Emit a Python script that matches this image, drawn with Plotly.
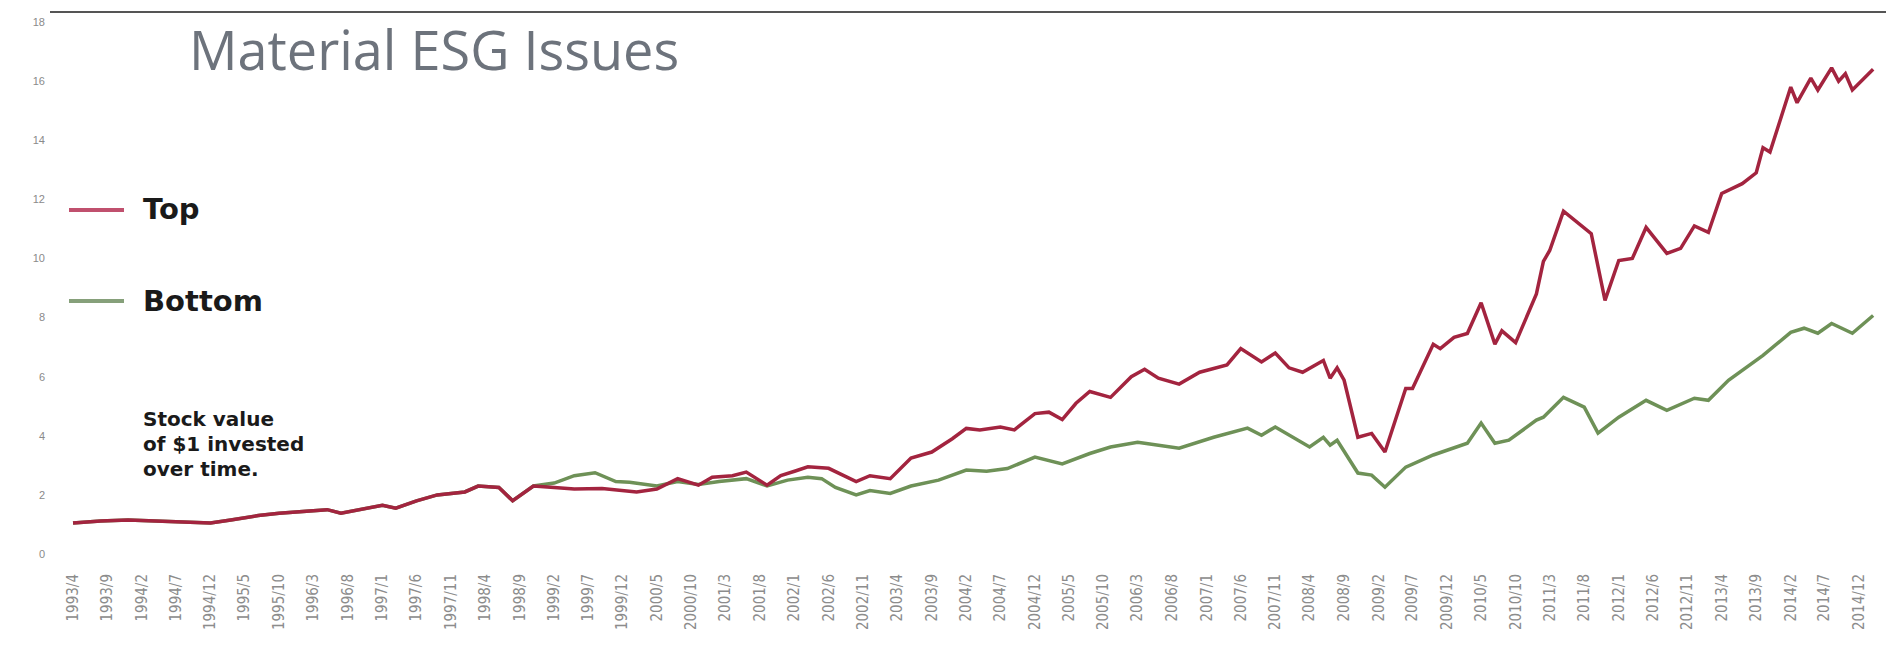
import plotly.graph_objects as go

# ---------------- data ----------------
TICK_LABELS = [
    "1993/4", "1993/9", "1994/2", "1994/7", "1994/12", "1995/5", "1995/10", "1996/3", "1996/8",
    "1997/1", "1997/6", "1997/11", "1998/4", "1998/9", "1999/2", "1999/7", "1999/12", "2000/5",
    "2000/10", "2001/3", "2001/8", "2002/1", "2002/6", "2002/11", "2003/4", "2003/9", "2004/2",
    "2004/7", "2004/12", "2005/5", "2005/10", "2006/3", "2006/8", "2007/1", "2007/6", "2007/11",
    "2008/4", "2008/9", "2009/2", "2009/7", "2009/12", "2010/5", "2010/10", "2011/3", "2011/8",
    "2012/1", "2012/6", "2012/11", "2013/4", "2013/9", "2014/2", "2014/7", "2014/12",
]

Y_TICKS = [0, 2, 4, 6, 8, 10, 12, 14, 16, 18]

TOP_DATES = [
    "1993-04", "1993-08", "1993-12", "1994-03", "1994-06", "1994-09", "1994-12", "1995-03",
    "1995-07", "1995-10", "1996-02", "1996-05", "1996-07", "1996-10", "1997-01", "1997-03",
    "1997-06", "1997-09", "1997-11", "1998-01", "1998-03", "1998-06", "1998-08", "1998-11",
    "1999-02", "1999-05", "1999-09", "2000-02", "2000-05", "2000-08", "2000-11", "2001-01",
    "2001-04", "2001-06", "2001-09", "2001-11", "2002-01", "2002-03", "2002-06", "2002-09",
    "2002-10", "2002-12", "2003-03", "2003-06", "2003-09", "2003-12", "2004-02", "2004-04",
    "2004-07", "2004-09", "2004-12", "2005-02", "2005-04", "2005-06", "2005-08", "2005-11",
    "2006-02", "2006-04", "2006-06", "2006-09", "2006-12", "2007-04", "2007-06", "2007-09",
    "2007-11", "2008-01", "2008-03", "2008-06", "2008-07", "2008-08", "2008-09", "2008-11",
    "2009-01", "2009-03", "2009-06", "2009-07", "2009-10", "2009-11", "2010-01", "2010-03",
    "2010-05", "2010-07", "2010-08", "2010-10", "2011-01", "2011-02", "2011-03", "2011-05",
    "2011-09", "2011-11", "2012-01", "2012-03", "2012-05", "2012-08", "2012-10", "2012-12",
    "2013-02", "2013-04", "2013-07", "2013-09", "2013-10", "2013-11", "2014-02", "2014-03",
    "2014-05", "2014-06", "2014-08", "2014-09", "2014-10", "2014-11", "2015-02",
]
TOP_VALUES = [
    1.05, 1.12, 1.15, 1.12, 1.10, 1.08, 1.05, 1.15,
    1.30, 1.38, 1.45, 1.50, 1.38, 1.52, 1.65, 1.55,
    1.80, 2.00, 2.05, 2.10, 2.30, 2.25, 1.80, 2.30,
    2.25, 2.20, 2.22, 2.10, 2.20, 2.55, 2.33, 2.60,
    2.65, 2.77, 2.33, 2.65, 2.80, 2.95, 2.90, 2.55,
    2.45, 2.65, 2.55, 3.25, 3.45, 3.90, 4.25, 4.20,
    4.30, 4.20, 4.75, 4.80, 4.55, 5.10, 5.50, 5.30,
    6.00, 6.25, 5.95, 5.75, 6.15, 6.40, 6.95, 6.50,
    6.80, 6.30, 6.15, 6.55, 5.95, 6.30, 5.88, 3.95,
    4.08, 3.45, 5.60, 5.60, 7.10, 6.95, 7.33, 7.46,
    8.50, 7.10, 7.55, 7.15, 8.80, 9.90, 10.27, 11.60,
    10.84, 8.58, 9.93, 10.00, 11.05, 10.17, 10.34, 11.10,
    10.88, 12.20, 12.53, 12.90, 13.75, 13.60, 15.80, 15.27,
    16.10, 15.70, 16.45, 16.00, 16.25, 15.70, 16.40,
]

BOTTOM_DATES = [
    "1993-04", "1993-08", "1993-12", "1994-03", "1994-06", "1994-09", "1994-12", "1995-03",
    "1995-07", "1995-10", "1996-02", "1996-05", "1996-07", "1996-10", "1997-01", "1997-03",
    "1997-06", "1997-09", "1997-11", "1998-01", "1998-03", "1998-06", "1998-08", "1998-11",
    "1999-02", "1999-05", "1999-08", "1999-11", "2000-01", "2000-05", "2000-08", "2000-11",
    "2001-02", "2001-06", "2001-09", "2001-12", "2002-03", "2002-05", "2002-07", "2002-10",
    "2002-12", "2003-03", "2003-06", "2003-10", "2004-02", "2004-05", "2004-08", "2004-12",
    "2005-04", "2005-08", "2005-11", "2006-03", "2006-04", "2006-09", "2007-02", "2007-07",
    "2007-09", "2007-11", "2008-04", "2008-06", "2008-07", "2008-08", "2008-11", "2009-01",
    "2009-03", "2009-06", "2009-10", "2009-12", "2010-03", "2010-05", "2010-07", "2010-09",
    "2011-01", "2011-02", "2011-05", "2011-08", "2011-10", "2012-01", "2012-05", "2012-08",
    "2012-12", "2013-02", "2013-05", "2013-10", "2014-02", "2014-04", "2014-06", "2014-08",
    "2014-11", "2015-02",
]
BOTTOM_VALUES = [
    1.05, 1.12, 1.15, 1.12, 1.10, 1.08, 1.05, 1.15,
    1.30, 1.38, 1.45, 1.50, 1.38, 1.52, 1.65, 1.55,
    1.80, 2.00, 2.05, 2.10, 2.30, 2.25, 1.80, 2.30,
    2.40, 2.65, 2.75, 2.45, 2.43, 2.30, 2.45, 2.35,
    2.45, 2.55, 2.30, 2.50, 2.60, 2.55, 2.25, 2.00,
    2.15, 2.05, 2.30, 2.50, 2.84, 2.80, 2.89, 3.28,
    3.05, 3.40, 3.62, 3.78, 3.75, 3.58, 3.95, 4.26,
    4.02, 4.30, 3.62, 3.95, 3.68, 3.85, 2.74, 2.67,
    2.26, 2.94, 3.35, 3.50, 3.75, 4.43, 3.75, 3.85,
    4.53, 4.63, 5.30, 4.97, 4.09, 4.63, 5.20, 4.86,
    5.27, 5.20, 5.88, 6.72, 7.50, 7.64, 7.47, 7.80,
    7.47, 8.07,
]

TOP_COLOR = "#a3243f"
BOTTOM_COLOR = "#6e9157"


def label_to_date(lbl):
    y, m = lbl.split("/")
    return f"{y}-{int(m):02d}-01"


fig = go.Figure()
fig.add_trace(go.Scatter(x=BOTTOM_DATES, y=BOTTOM_VALUES, mode="lines", name="Bottom",
                         line=dict(color=BOTTOM_COLOR, width=3.5), showlegend=False))
fig.add_trace(go.Scatter(x=TOP_DATES, y=TOP_VALUES, mode="lines", name="Top",
                         line=dict(color=TOP_COLOR, width=3.5), showlegend=False))

W, H = 1886, 665
L, R, T, B = 50, 0, 12, 111
PW, PH = W - L - R, H - T - B


def px_x(px):
    return (px - L) / PW


def px_y(py):
    return (H - B - py) / PH


shapes = [
    dict(type="line", xref="paper", yref="paper", x0=0, x1=1, y0=1, y1=1,
         line=dict(color="#555555", width=2)),
    dict(type="line", xref="paper", yref="paper", x0=px_x(69), x1=px_x(124),
         y0=px_y(210), y1=px_y(210), line=dict(color="#c0506e", width=4)),
    dict(type="line", xref="paper", yref="paper", x0=px_x(69), x1=px_x(124),
         y0=px_y(301), y1=px_y(301), line=dict(color="#86a07a", width=4)),
]

legend_font = dict(family="DejaVu Sans, sans-serif", size=29, color="#1a1a1a")
note_font = dict(family="DejaVu Sans, sans-serif", size=20, color="#1a1a1a")
annotations = [
    dict(text="<b>Top</b>", xref="paper", yref="paper", x=px_x(141), y=px_y(209),
         xanchor="left", yanchor="middle", showarrow=False, font=legend_font),
    dict(text="<b>Bottom</b>", xref="paper", yref="paper", x=px_x(141), y=px_y(301),
         xanchor="left", yanchor="middle", showarrow=False, font=legend_font),
]
for i, line in enumerate(["Stock value", "of $1 invested", "over time."]):
    annotations.append(dict(text=f"<b>{line}</b>", xref="paper", yref="paper",
                            x=px_x(141), y=px_y(419 + 25 * i), xanchor="left",
                            yanchor="middle", showarrow=False, font=note_font))

fig.update_layout(
    width=W, height=H,
    margin=dict(l=L, r=R, t=T, b=B, pad=0),
    paper_bgcolor="white", plot_bgcolor="white",
    title=dict(text="Material ESG Issues", x=189 / W, xanchor="left",
               y=1 - 51 / H, yanchor="middle",
               font=dict(family="Open Sans, sans-serif", size=54, color="#6d737c")),
    xaxis=dict(type="date", range=["1992-12-20", "2015-03-30"],
               tickmode="array", tickvals=[label_to_date(t) for t in TICK_LABELS],
               ticktext=TICK_LABELS, tickangle=-90,
               tickfont=dict(family="Liberation Sans Narrow, DejaVu Sans Condensed, Arial Narrow, sans-serif",
                             size=15, color="#8c8c8c"),
               showgrid=False, zeroline=False, showline=False, ticks="",
               ticklabelstandoff=16),
    yaxis=dict(range=[0, 18.34], tickmode="array", tickvals=Y_TICKS,
               tickfont=dict(family="Liberation Sans, Arial, sans-serif", size=11, color="#8a8a8a"),
               showgrid=False, zeroline=False, showline=False, ticks="",
               ticklabelstandoff=4),
    shapes=shapes, annotations=annotations,
)

fig.write_html("out.html",
               config={"displayModeBar": False},
               post_script="document.body.style.margin='0';document.body.style.overflow='hidden';")
